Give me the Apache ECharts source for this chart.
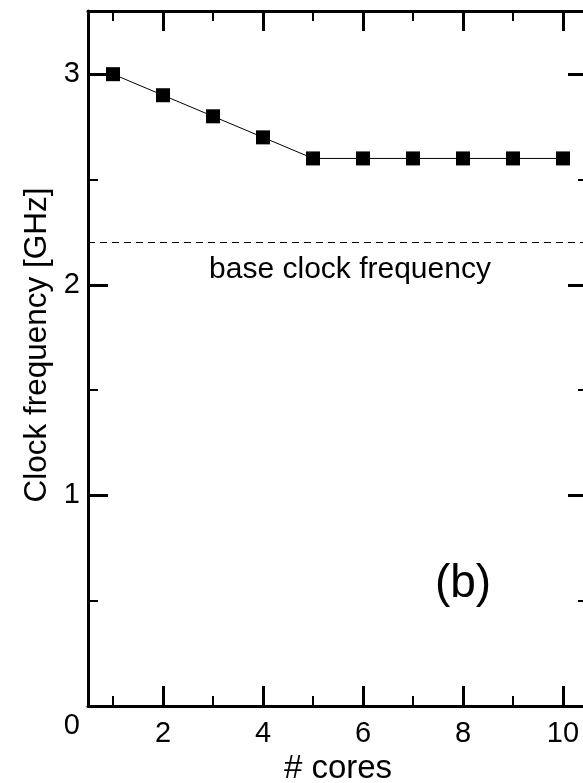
<!DOCTYPE html>
<html>
<head>
<meta charset="utf-8">
<title>Clock frequency vs cores</title>
<script src="https://cdn.jsdelivr.net/npm/echarts@6.0.0/dist/echarts.min.js"></script>
<style>
  html, body { margin: 0; padding: 0; background: #fff; }
  #chart { width: 583px; height: 783px; }
</style>
</head>
<body>
<div id="chart"></div>
<script>
// data
var cores = [1, 2, 3, 4, 5, 6, 7, 8, 9, 10]
var clockGHz = [3.0, 2.9, 2.8, 2.7, 2.6, 2.6, 2.6, 2.6, 2.6, 2.6]
var baseClock = 2.2

var xMajor = [2, 4, 6, 8, 10]
var xMinor = [1, 3, 5, 7, 9]
var yMajor = [0, 1, 2, 3]
var yMinor = [0.5, 1.5, 2.5]

var FONT = 'Liberation Sans, Arial, Helvetica, sans-serif'
var X_MIN = 0.5
var X_MAX = 10.5
var Y_MIN = 0
var Y_MAX = 3.3

function xAxisCfg(position, ticks, len, withLine, withLabel) {
  return {
    type: 'value',
    position: position,
    min: X_MIN,
    max: X_MAX,
    axisLine: { show: withLine, onZero: false, lineStyle: { color: '#000', width: 3 } },
    axisTick: {
      show: true,
      inside: true,
      length: len,
      customValues: ticks,
      lineStyle: { color: '#000', width: len > 12 ? 3 : 2 }
    },
    axisLabel: withLabel ? {
      show: true,
      customValues: ticks,
      margin: 13,
      color: '#000',
      fontSize: 29,
      fontFamily: FONT
    } : { show: false },
    splitLine: { show: false }
  }
}

function yAxisCfg(position, ticks, len, withLine, withLabel) {
  return {
    type: 'value',
    position: position,
    min: Y_MIN,
    max: Y_MAX,
    axisLine: { show: withLine, onZero: false, lineStyle: { color: '#000', width: 3 } },
    axisTick: {
      show: true,
      inside: true,
      length: len,
      customValues: ticks,
      lineStyle: { color: '#000', width: len > 12 ? 3 : 2 }
    },
    axisLabel: withLabel ? {
      show: true,
      customValues: ticks,
      margin: 8,
      color: '#000',
      fontSize: 29,
      fontFamily: FONT,
      formatter: function (v) {
        // the zero label sits below its tick in the original
        return v === 0 ? '{z|0}' : String(v)
      },
      rich: {
        z: { padding: [40, 0, 0, 0], fontSize: 29, fontFamily: FONT, color: '#000' }
      }
    } : { show: false },
    splitLine: { show: false }
  }
}

var xAxes = [
  xAxisCfg('bottom', xMajor, 20, true, true),
  xAxisCfg('bottom', xMinor, 10, false, false),
  xAxisCfg('top', xMajor, 20, true, false),
  xAxisCfg('top', xMinor, 10, false, false)
]
xAxes[0].name = '# cores'
xAxes[0].nameLocation = 'middle'
xAxes[0].nameGap = 44
xAxes[0].nameTextStyle = { color: '#000', fontSize: 33, fontFamily: FONT }

var yAxes = [
  yAxisCfg('left', yMajor, 20, true, true),
  yAxisCfg('left', yMinor, 10, false, false),
  yAxisCfg('right', yMajor, 20, true, false),
  yAxisCfg('right', yMinor, 10, false, false)
]
yAxes[0].name = 'Clock frequency [GHz]'
yAxes[0].nameLocation = 'middle'
yAxes[0].nameGap = 33
yAxes[0].nameTextStyle = {
  color: '#000',
  fontSize: 31.5,
  fontFamily: FONT,
  padding: [0, 0, 0, 27]
}

var chart = echarts.init(document.getElementById('chart'), null, { renderer: 'canvas' })
chart.setOption({
  animation: false,
  backgroundColor: '#fff',
  // the right frame edge sits just outside the picture
  grid: {
    left: 88,
    top: 11,
    width: 500,
    bottom: 77,
    containLabel: false,
    outerBoundsMode: 'none'
  },
  xAxis: xAxes,
  yAxis: yAxes,
  series: [
    {
      type: 'line',
      xAxisIndex: 0,
      yAxisIndex: 0,
      data: cores.map(function (c, i) { return [c, clockGHz[i]] }),
      symbol: 'rect',
      symbolSize: 14,
      itemStyle: { color: '#000' },
      lineStyle: { color: '#000', width: 1 },
      markLine: {
        silent: true,
        symbol: ['none', 'none'],
        label: { show: false },
        lineStyle: { color: '#000', width: 1, type: [7, 5] },
        data: [{ yAxis: baseClock }]
      }
    }
  ],
  graphic: [
    {
      type: 'text',
      x: 350,
      y: 270,
      style: {
        text: 'base clock frequency',
        fill: '#000',
        font: '30px ' + FONT,
        align: 'center',
        verticalAlign: 'middle'
      }
    },
    {
      type: 'text',
      x: 463,
      y: 584,
      style: {
        text: '(b)',
        fill: '#000',
        font: '46px ' + FONT,
        align: 'center',
        verticalAlign: 'middle'
      }
    }
  ]
})
</script>
</body>
</html>
